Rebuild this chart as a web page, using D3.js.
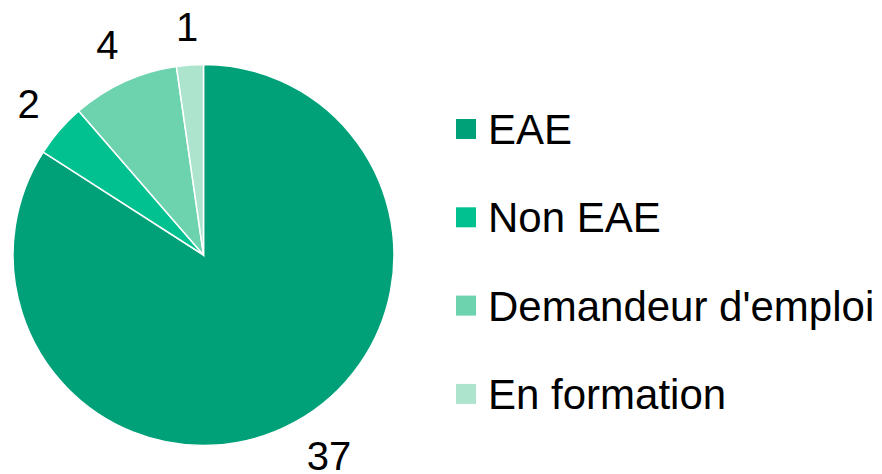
<!DOCTYPE html>
<html>
<head>
<meta charset="utf-8">
<script src="https://cdn.jsdelivr.net/npm/d3@7"></script>
<style>
  body { margin: 0; background: #fff; }
  text { font-family: "Liberation Sans", Arial, sans-serif; fill: #000; }
</style>
</head>
<body>
<div class="chart"></div>
<script>
var categories = ["EAE", "Non EAE", "Demandeur d'emploi", "En formation"];
var values = [37, 2, 4, 1];
var colors = ["#00A078", "#00C18F", "#6DD3AE", "#ADE4CE"];

var svgWidth = 882, svgHeight = 474;
var cx = 203.5, cy = 255, radius = 190.5;
var labelGap = 23;

var svg = d3.select(".chart").append("svg")
    .attr("width", svgWidth)
    .attr("height", svgHeight);

var data = categories.map((c, i) => ({name: c, value: values[i], color: colors[i]}));

var pie = d3.pie().sort(null).value(d => d.value);
var arc = d3.arc().innerRadius(0).outerRadius(radius);

var g = svg.append("g")
    .attr("transform", "translate(" + cx + "," + cy + ")");

var slices = g.selectAll("g")
    .data(pie(data))
    .enter()
    .append("g");

slices.append("path")
    .attr("d", arc)
    .attr("fill", d => d.data.color)
    .attr("stroke", "#fff")
    .attr("stroke-width", 1.5);

// value labels outside the pie, box kept a fixed gap from the edge,
// and slid along the circle when it would fall off the bottom
slices.append("text")
    .attr("text-anchor", "middle")
    .attr("dy", "0.36em")
    .style("font-size", "40px")
    .text(d => d.data.value)
    .attr("transform", function(d) {
        var a = (d.startAngle + d.endAngle) / 2;
        var s = Math.sin(a), c = Math.cos(a);
        var w = this.getBBox().width;
        var h = 40 * 0.716;
        var r = radius + labelGap + Math.abs(w / 2 * s) + Math.abs(h / 2 * c);
        var x = r * s, y = -r * c;
        var maxY = svgHeight - 4 - h / 2 - cy;
        if (y > maxY) {
            y = maxY;
            x = Math.sign(s) * Math.sqrt(r * r - y * y);
        }
        return "translate(" + x + "," + y + ")";
    });

// legend
var legend = svg.append("g")
    .attr("transform", "translate(456,129)");

var rows = legend.selectAll("g")
    .data(data)
    .enter()
    .append("g")
    .attr("transform", (d, i) => "translate(0," + (i * 88.3) + ")");

rows.append("rect")
    .attr("x", 0)
    .attr("y", -10)
    .attr("width", 20)
    .attr("height", 20)
    .attr("fill", d => d.color);

rows.append("text")
    .attr("x", 32)
    .attr("y", 0)
    .attr("dy", "0.36em")
    .style("font-size", "42px")
    .text(d => d.name);
</script>
</body>
</html>
